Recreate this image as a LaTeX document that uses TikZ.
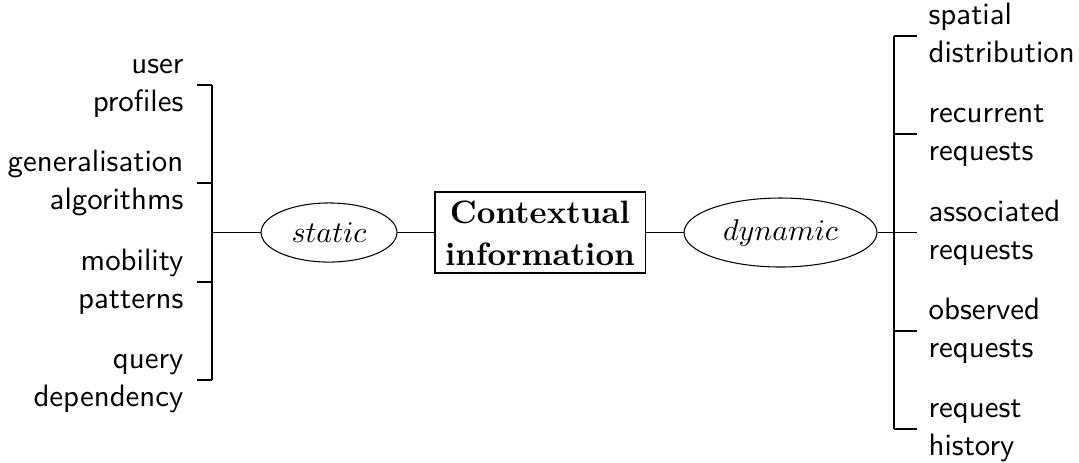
\documentclass[tikz,border=0pt]{standalone}
\usetikzlibrary{shapes.geometric}
\newcommand{\twoln}[2]{\strut #1\\\strut #2}
\begin{document}
\begin{tikzpicture}[x=0.3333pt,y=-0.3333pt,
  conn/.style={line width=0.35pt},
  leafL/.style={anchor=east, align=right, font=\fontsize{10.3}{12.7}\selectfont\sffamily, inner sep=0pt},
  leafR/.style={anchor=west, align=left, font=\fontsize{10.3}{12.7}\selectfont\sffamily, inner sep=0pt},
  catnode/.style={ellipse, draw, line width=0.35pt, inner sep=0pt, font=\fontsize{10}{12}\selectfont},
  mainbox/.style={rectangle, draw, line width=0.35pt, inner sep=0pt, align=center, font=\fontsize{10.8}{14.3}\selectfont\bfseries}]
\useasboundingbox (0,0) rectangle (1079,462);
% centre
\node[mainbox, minimum width=70pt, minimum height=27pt] (ctx) at (540,232.5) {\rule{0pt}{10.2pt}Contextual\\information\rule[-2.2pt]{0pt}{2.2pt}};
\node[catnode, minimum width=45.3pt, minimum height=19.7pt] (static) at (329,232.5) {$static$};
\node[catnode, minimum width=64.3pt, minimum height=23pt] (dynamic) at (780.5,232.5) {$dynamic$};
\draw[conn] (static) -- (ctx);
\draw[conn] (ctx) -- (dynamic);
% left bracket
\coordinate (LM) at (212,232.5);
\coordinate (LV1) at (212,85);
\coordinate (LV2) at (212,183);
\coordinate (LV3) at (212,282);
\coordinate (LV4) at (212,380);
\coordinate (LT1) at (197,85);
\coordinate (LT2) at (197,183);
\coordinate (LT3) at (197,282);
\coordinate (LT4) at (197,380);
\draw[line width=0.6pt] (LM) -- (static);
\draw[conn] (LV1) -- (LV4);
\draw[conn] (LT1) -- (LV1);
\draw[conn] (LT2) -- (LV2);
\draw[conn] (LT3) -- (LV3);
\draw[conn] (LT4) -- (LV4);
\node[leafL] (l1) at (184,85) {\twoln{user}{profiles}};
\node[leafL] (l2) at (184,183) {\twoln{generalisation}{algorithms}};
\node[leafL] (l3) at (184,282) {\twoln{mobility}{patterns}};
\node[leafL] (l4) at (184,380) {\twoln{query}{dependency}};
% right bracket
\coordinate (RM) at (894,232.5);
\coordinate (RV1) at (894,36);
\coordinate (RV2) at (894,134);
\coordinate (RV3) at (894,232.5);
\coordinate (RV4) at (894,331);
\coordinate (RV5) at (894,429);
\coordinate (RT1) at (917,36);
\coordinate (RT2) at (917,134);
\coordinate (RT3) at (917,232.5);
\coordinate (RT4) at (917,331);
\coordinate (RT5) at (917,429);
\draw[line width=0.6pt] (dynamic) -- (RM);
\draw[conn] (RV1) -- (RV5);
\draw[conn] (RV1) -- (RT1);
\draw[conn] (RV2) -- (RT2);
\draw[conn] (RV3) -- (RT3);
\draw[conn] (RV4) -- (RT4);
\draw[conn] (RV5) -- (RT5);
\node[leafR] (r1) at (928,36) {\twoln{spatial}{distribution}};
\node[leafR] (r2) at (928,134) {\twoln{recurrent}{requests}};
\node[leafR] (r3) at (928,232.5) {\twoln{associated}{requests}};
\node[leafR] (r4) at (928,331) {\twoln{observed}{requests}};
\node[leafR] (r5) at (928,429) {\twoln{request}{history}};
\end{tikzpicture}
\end{document}
